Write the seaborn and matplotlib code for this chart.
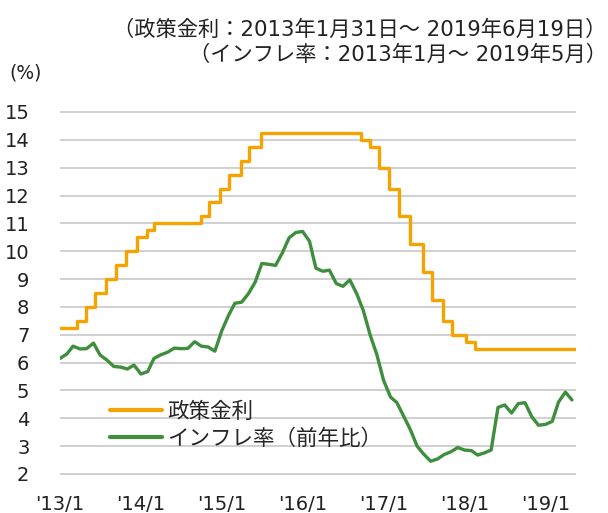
import pandas as pd
import numpy as np
import matplotlib
matplotlib.use("Agg")
import matplotlib.pyplot as plt
import seaborn as sns

# Data

rate_dates = [
    "2013-01-31", "2013-04-17", "2013-05-29", "2013-07-10", "2013-08-28",
    "2013-10-09", "2013-11-27", "2014-01-15", "2014-02-26", "2014-04-02",
    "2014-10-29", "2014-12-03", "2015-01-21", "2015-03-04", "2015-04-29",
    "2015-06-03", "2015-07-29", "2016-10-19", "2016-11-30", "2017-01-11",
    "2017-02-22", "2017-04-12", "2017-05-31", "2017-07-26", "2017-09-06",
    "2017-10-25", "2017-12-06", "2018-02-07", "2018-03-21", "2019-06-19",
]
rate_values = [
    7.25, 7.50, 8.00, 8.50, 9.00,
    9.50, 10.00, 10.50, 10.75, 11.00,
    11.25, 11.75, 12.25, 12.75, 13.25,
    13.75, 14.25, 14.00, 13.75, 13.00,
    12.25, 11.25, 10.25, 9.25, 8.25,
    7.50, 7.00, 6.75, 6.50, 6.50,
]

infl_start = "2013-01-01"
infl_values = [
    6.15, 6.31, 6.59, 6.49, 6.50, 6.70, 6.27, 6.09, 5.86, 5.84, 5.77, 5.91,
    5.59, 5.68, 6.15, 6.28, 6.37, 6.52, 6.50, 6.51, 6.75, 6.59, 6.56, 6.41,
    7.14, 7.70, 8.13, 8.17, 8.47, 8.89, 9.56, 9.53, 9.49, 9.93, 10.48, 10.67,
    10.71, 10.36, 9.39, 9.28, 9.32, 8.84, 8.74, 8.97, 8.48, 7.87, 6.99, 6.29,
    5.35, 4.76, 4.57, 4.08, 3.60, 3.00, 2.71, 2.46, 2.54, 2.70, 2.80, 2.95,
    2.86, 2.84, 2.68, 2.76, 2.86, 4.39, 4.48, 4.19, 4.53, 4.56, 4.05, 3.75,
    3.78, 3.89, 4.58, 4.94, 4.66,
]

xtick_years = [2013, 2014, 2015, 2016, 2017, 2018, 2019]
xtick_labels = ["'13/1", "'14/1", "'15/1", "'16/1", "'17/1", "'18/1", "'19/1"]
yticks = list(range(2, 16))

legend_labels = ["政策金利", "インフレ率（前年比）"]
note_lines = "（政策金利：2013年1月31日～ 2019年6月19日）\n（インフレ率：2013年1月～ 2019年5月）"

infl_df = pd.DataFrame({
    "date": pd.date_range(infl_start, periods=len(infl_values), freq="MS"),
    "value": infl_values,
})

# the rate series starts at the first inflation month on the chart
rate_dt = pd.to_datetime(rate_dates)
rate_df = pd.DataFrame({
    "date": rate_dt - (rate_dt[0] - pd.Timestamp(infl_start)),
    "value": rate_values,
})

# Plot

sns.set_style("white")
plt.rcParams["font.family"] = ["DejaVu Sans", "Noto Sans CJK JP"]

fig = plt.figure(figsize=(6.08, 5.13), dpi=100)
ax = fig.add_axes([0.0987, 0.0706, 0.849, 0.7166])

sns.lineplot(
    data=rate_df, x="date", y="value", ax=ax,
    color="#F5A300", lw=2.4, drawstyle="steps-post",
    label=legend_labels[0],
)
sns.lineplot(
    data=infl_df, x="date", y="value", ax=ax,
    color="#3E8E3E", lw=2.4,
    label=legend_labels[1],
)

ax.set_ylim(1.9, 15.1)
ax.set_xlim(pd.Timestamp("2013-01-01"), rate_df["date"].iloc[-1])
ax.set_yticks(yticks)
ax.set_xticks([pd.Timestamp(f"{y}-01-01") for y in xtick_years])
ax.set_xticklabels(xtick_labels)
ax.set_xlabel("")
ax.set_ylabel("")

ax.grid(axis="y", color="#C8C8C8", lw=1.2)
ax.grid(axis="x", visible=False)
for s in ax.spines.values():
    s.set_visible(False)
ax.tick_params(axis="y", length=0, pad=22, labelsize=14, labelcolor="#222222")
ax.tick_params(axis="x", length=0, pad=13, labelsize=14, labelcolor="#222222")

leg = ax.legend(
    loc="upper left", bbox_to_anchor=(0.181, 0.217), bbox_transform=fig.transFigure,
    frameon=False, fontsize=15.5, handlelength=2.4, handletextpad=0.25,
    labelspacing=0.3, borderpad=0, borderaxespad=0,
)
for line in leg.get_lines():
    line.set_linewidth(3)

fig.text(0.998, 0.918, note_lines, ha="right", va="center", fontsize=15.3,
         color="#222222", linespacing=1.25)
fig.text(0.015, 0.858, "(%)", ha="left", va="center", fontsize=13.5, color="#222222")

fig.savefig("out.png", dpi=100)
